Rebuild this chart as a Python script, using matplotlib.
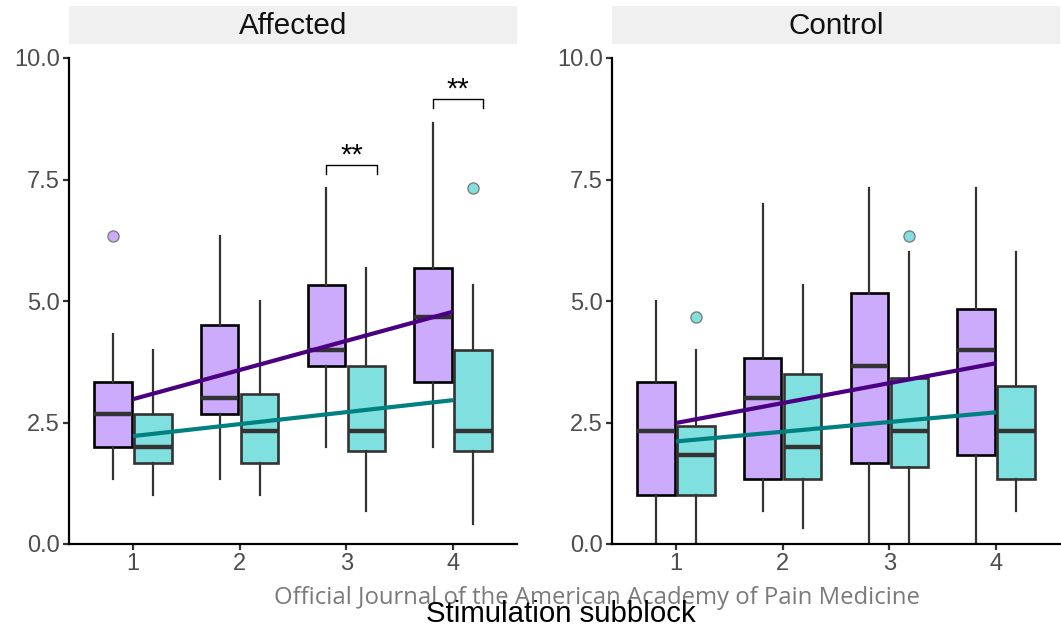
import matplotlib
matplotlib.use("Agg")
import matplotlib.pyplot as plt

plt.rcParams['font.family'] = ['Liberation Sans', 'DejaVu Sans']

panels = ["Affected", "Control"]
subblocks = [1, 2, 3, 4]

# box stats per panel per series: (whislo, q1, med, q3, whishi, outliers)
aff_purple = [(1.33, 2.0, 2.67, 3.33, 4.33, [6.33]),
              (1.33, 2.67, 3.0, 4.5, 6.33, []),
              (2.0, 3.67, 4.0, 5.33, 7.33, []),
              (2.0, 3.33, 4.67, 5.67, 8.67, [])]
aff_teal = [(1.0, 1.67, 2.0, 2.67, 4.0, []),
            (1.0, 1.67, 2.33, 3.08, 5.0, []),
            (0.67, 1.92, 2.33, 3.67, 5.67, []),
            (0.42, 1.92, 2.33, 4.0, 5.33, [7.33])]
ctl_purple = [(0.0, 1.0, 2.33, 3.33, 5.0, []),
              (0.67, 1.33, 3.0, 3.83, 7.0, []),
              (0.0, 1.67, 3.67, 5.17, 7.33, []),
              (0.0, 1.83, 4.0, 4.83, 7.33, [])]
ctl_teal = [(0.0, 1.0, 1.83, 2.42, 4.0, [4.67]),
            (0.33, 1.33, 2.0, 3.5, 5.33, []),
            (0.0, 1.58, 2.33, 3.42, 6.0, [6.33]),
            (0.67, 1.33, 2.33, 3.25, 6.0, [])]

# fitted trend lines (value at subblock 1 and 4)
aff_trend_purple = [2.98, 4.78]
aff_trend_teal = [2.22, 2.96]
ctl_trend_purple = [2.49, 3.72]
ctl_trend_teal = [2.11, 2.71]

# significance annotations (Affected panel)
sig_subblocks = [3, 4]
sig_heights = [7.8, 9.16]
sig_labels = ["**", "**"]

data = {
    "Affected": (aff_purple, aff_teal, aff_trend_purple, aff_trend_teal),
    "Control": (ctl_purple, ctl_teal, ctl_trend_purple, ctl_trend_teal),
}

purple_fill = "#CCAAFC"
teal_fill = "#80E0E0"
purple_line = "#4B0082"
teal_line = "#008080"

W, H = 1061, 627
fig = plt.figure(figsize=(W / 100, H / 100), dpi=100)

ax_left_px = [69, 612]
ax_w_px = 448
ax_top_px, ax_bot_px = 58, 544
strip_top_px, strip_bot_px = 6, 44

def to_fig(x0, y_top, w, h):
    return [x0 / W, 1 - (y_top + h) / H, w / W, h / H]

off = 0.1875
bw = 0.35

for pi, name in enumerate(panels):
    purple, teal, tp, tt = data[name]
    ax = fig.add_axes(to_fig(ax_left_px[pi], ax_top_px, ax_w_px, ax_bot_px - ax_top_px))
    for series, shift, fill, ec in [(purple, -off, purple_fill, "black"),
                                     (teal, off, teal_fill, "#333333")]:
        stats = []
        for s in series:
            stats.append(dict(whislo=s[0], q1=s[1], med=s[2], q3=s[3], whishi=s[4], fliers=s[5]))
        pos = [x + shift for x in subblocks]
        ax.bxp(stats, positions=pos, widths=bw, patch_artist=True, showcaps=False,
               boxprops=dict(facecolor=fill, edgecolor=ec, linewidth=1.9),
               whiskerprops=dict(color="#333333", linewidth=1.6),
               medianprops=dict(color="#333333", linewidth=3.2, solid_capstyle='butt'),
               flierprops=dict(marker='o', markerfacecolor=fill, markeredgecolor="#7f7f7f",
                               markersize=8, markeredgewidth=1.0),
               zorder=2)
    ax.plot([subblocks[0], subblocks[-1]], tp, color=purple_line, lw=3.0, zorder=4,
            solid_capstyle='butt')
    ax.plot([subblocks[0], subblocks[-1]], tt, color=teal_line, lw=3.0, zorder=4,
            solid_capstyle='butt')

    if name == "Affected":
        for sb, hgt, lab in zip(sig_subblocks, sig_heights, sig_labels):
            x0, x1 = sb - 0.19, sb + 0.285
            ax.plot([x0, x0, x1, x1], [hgt - 0.18, hgt, hgt, hgt - 0.18],
                    color="black", lw=1.0, zorder=5)
            ax.text((x0 + x1) / 2, hgt + 0.2, lab, ha='center', va='center',
                    fontsize=21, color="black")

    ax.set_xlim(0.4, 4.6)
    ax.set_ylim(0, 10)
    ax.set_xticks(subblocks)
    ax.set_xticklabels([str(s) for s in subblocks])
    ax.set_yticks([0, 2.5, 5.0, 7.5, 10.0])
    ax.set_yticklabels(["0.0", "2.5", "5.0", "7.5", "10.0"])
    for sp in ["top", "right"]:
        ax.spines[sp].set_visible(False)
    for sp in ["left", "bottom"]:
        ax.spines[sp].set_linewidth(1.6)
        ax.spines[sp].set_color("black")
    ax.tick_params(axis='both', length=4, width=1.6, color="#333333",
                   labelsize=17, labelcolor="#4D4D4D", pad=2.5)

    sax = fig.add_axes(to_fig(ax_left_px[pi], strip_top_px, ax_w_px, strip_bot_px - strip_top_px))
    sax.set_facecolor("#F0F0F0")
    sax.set_xticks([])
    sax.set_yticks([])
    for sp in sax.spines.values():
        sp.set_visible(False)
    sax.text(0.5, 0.47, name, ha='center', va='center', fontsize=21.3,
             color="#111111", transform=sax.transAxes)

fig.text(597 / W, 1 - 598 / H, "Official Journal of the American Academy of Pain Medicine",
         ha='center', va='center', fontsize=17.2, color="#7A7A7A", family="Open Sans")
fig.text(561 / W, 1 - 614 / H, "Stimulation subblock", ha='center', va='center',
         fontsize=21.2, color="black")

fig.savefig("out.png", dpi=100)
